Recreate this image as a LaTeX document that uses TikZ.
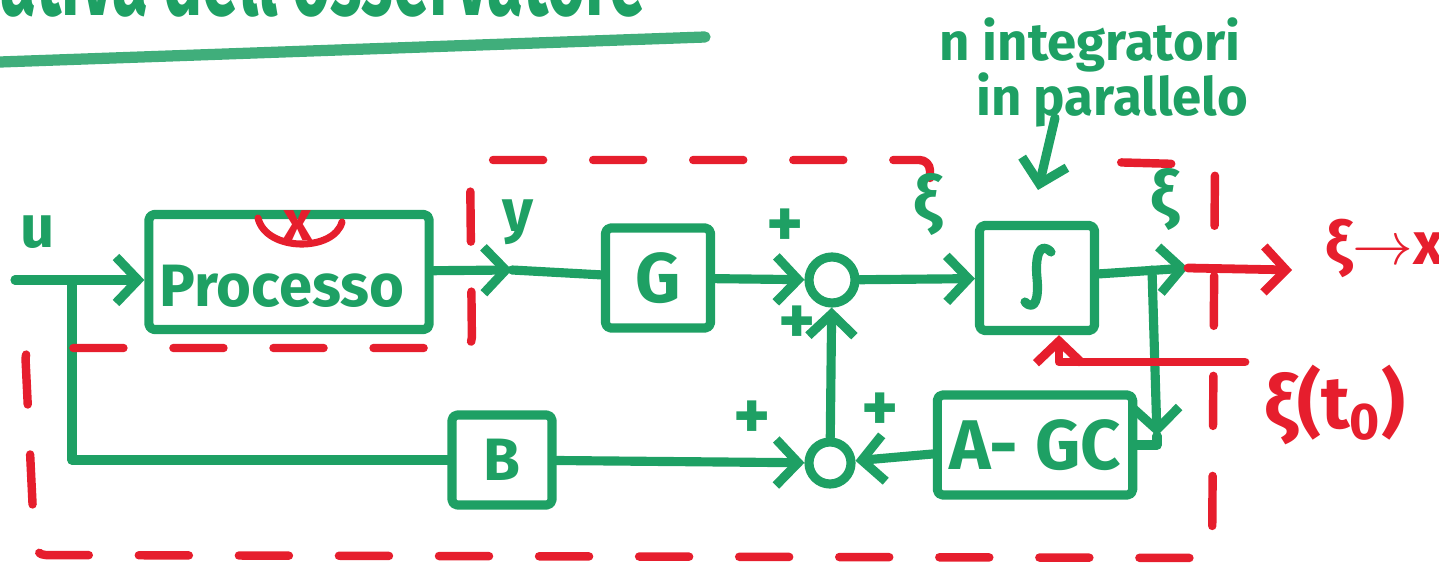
\documentclass[tikz,border=0pt]{standalone}
\usepackage{fontspec}
\setmainfont{Fira Sans}
\usetikzlibrary{arrows.meta,positioning}
\definecolor{mgreen}{RGB}{30,160,100}
\definecolor{mred}{RGB}{230,30,45}

\begin{document}
\begin{tikzpicture}[x=0.01cm, y=-0.01cm, >={Straight Barb[length=2.2mm,width=4.6mm]},
  line cap=round, line join=round,
  wire/.style={draw=mgreen, line width=2.6pt},
  rwire/.style={draw=mred, line width=2.5pt},
  blk/.style={draw=mgreen, line width=2.6pt, rectangle, rounded corners=1.5pt, text=mgreen, font=\bfseries\fontsize{20}{24}\selectfont},
  sum/.style={draw=mgreen, line width=2.6pt, circle, inner sep=0pt},
  lbl/.style={text=mgreen, font=\bfseries\fontsize{17}{20}\selectfont, inner sep=0pt},
  rlbl/.style={text=mred, font=\bfseries\fontsize{17}{20}\selectfont, inner sep=0pt},
  bound/.style={draw=mred, line width=2.4pt, dash pattern=on 5mm off 5mm, rounded corners=3pt}]
\useasboundingbox (0,0) rectangle (1439,573);

% title, cut at the top
\begin{scope}
\clip (0,0) rectangle (1439,573);
\node[lbl, anchor=base west, font=\bfseries\fontsize{30}{34}\selectfont] (title) at (0,16) {\scalebox{0.62}[1]{ativa dell'osservatore}};
\end{scope}
\coordinate (ula) at (0,62);
\coordinate (ulb) at (705,37);
\draw[wire, draw=mgreen!85, line width=3.2pt] (ula) -- (ulb);

% blocks
\node[blk, minimum width=2.8cm, minimum height=1.15cm] (proc) at (289,272) {};
\node[lbl] (lproc) at (282,286) {Processo};
\node[blk, minimum width=1.05cm, minimum height=1.0cm] (G) at (658,278) {G};
\node[sum, minimum size=4.6mm] (s1) at (832,280) {};
\node[blk, minimum width=1.15cm, minimum height=1.05cm] (int) at (1037,278) {};
\node[blk, minimum width=1.9cm, minimum height=1.0cm] (agc) at (1035,445) {A- GC};
\node[sum, minimum size=4.2mm] (s2) at (830,463) {};
\node[blk, minimum width=1.0cm, minimum height=0.9cm, font=\bfseries\fontsize{17}{20}\selectfont] (B) at (502,460) {B};

% integral sign
\draw[wire] ([shift={(14,-26)}]int.center) .. controls ([shift={(2,-38)}]int.center) and ([shift={(-2,-20)}]int.center) .. (int.center)
  .. controls ([shift={(2,20)}]int.center) and ([shift={(-2,34)}]int.center) .. ([shift={(-12,24)}]int.center);

% red mark on the process
\node[rlbl, font=\bfseries\fontsize{16}{18}\selectfont] (xp) at (298,226) {x};
\draw[rwire, line width=2pt] (258,218) .. controls (266,252) and (334,252) .. (342,222);

% coordinates
\coordinate (uin) at (15,280);
\coordinate (br1) at (72,280);
\coordinate (ya) at (512,270);
\coordinate (br2) at (1152,270);
\coordinate (gout) at (1188,268);
\coordinate (xout) at (1292,270);
\coordinate (fb) at (1157,436);
\coordinate (x0) at (1245,362);
\coordinate (ipa) at (1055,118);
\coordinate (ipb) at (1038,190);

% green connections
\draw[wire, ->] (uin) -- (uin -| proc.west);
\draw[wire] (br1) |- (B.west);
\draw[wire, ->] (proc) -- (ya);
\draw[wire] (ya) -- (G);
\draw[wire, ->] (G) -- (s1);
\draw[wire, ->] (s1) -- (int);
\draw[wire, ->] (int) -- (gout);
\draw[wire, ->] (br2) -- (fb);
\draw[wire] (fb) |- (agc.east);
\draw[wire, ->] (agc) -- (s2);
\draw[wire, ->] (B) -- (s2);
\draw[wire, ->] (s2) -- (s1);
\draw[wire, ->] (ipa) -- (ipb);

% red connections
\draw[rwire, ->] (gout) -- (xout);
\draw[rwire, ->] (x0) -| ([xshift=2.2mm]int.south);

% observer boundary
\draw[bound] (930,178) -- (930,160) -- (470,160) -- (472,348) -- (25,348) -- (35,555) -- (1212,558) -- (1215,165) -- (1105,162);

% labels
\node[lbl] (lu) at (38,232) {u};
\node[lbl] (ly) at (518,222) {y};
\node[lbl, font=\bfseries\fontsize{20}{24}\selectfont] (p1) at (785,228) {+};
\node[lbl, font=\bfseries\fontsize{20}{24}\selectfont] (p2) at (797,325) {+};
\node[lbl, font=\bfseries\fontsize{20}{24}\selectfont] (p3) at (752,420) {+};
\node[lbl, font=\bfseries\fontsize{20}{24}\selectfont] (p4) at (880,412) {+};
\node[lbl, font=\bfseries\fontsize{18}{22}\selectfont] (lx1) at (928,205) {ξ};
\node[lbl, font=\bfseries\fontsize{18}{22}\selectfont] (lx2) at (1165,200) {ξ};
\node[rlbl] (lxx) at (1385,248) {ξ$\to$x};
\node[rlbl, font=\bfseries\fontsize{21}{25}\selectfont] (lx0) at (1335,405) {ξ(t\textsubscript{0})};
\node[lbl, font=\bfseries\fontsize{15}{18}\selectfont] (ni) at (1090,45) {n integratori};
\node[lbl, font=\bfseries\fontsize{15}{18}\selectfont] (ip) at (1112,100) {in parallelo};
\end{tikzpicture}
\end{document}
